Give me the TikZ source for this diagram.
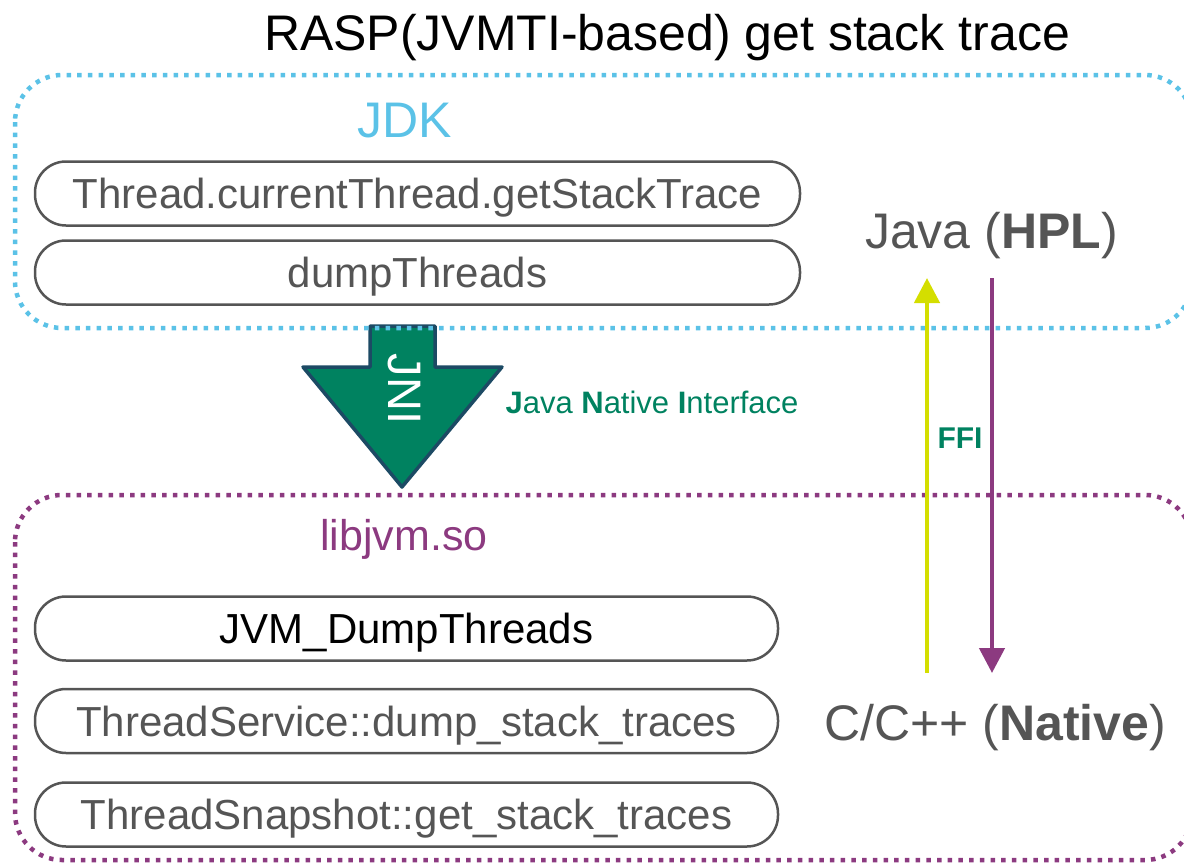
\documentclass[tikz,border=0pt]{standalone}
\usepackage{fontspec}
\setmainfont{Liberation Sans}
\usetikzlibrary{arrows.meta}
\definecolor{jdkblue}{RGB}{91,194,231}
\definecolor{jvmpurple}{RGB}{140,58,128}
\definecolor{jnigreen}{RGB}{0,130,96}
\definecolor{jniedge}{RGB}{28,74,100}
\definecolor{ffiyellow}{RGB}{212,222,0}
\definecolor{textgray}{RGB}{85,85,85}
\tikzset{
  callbox/.style={draw=textgray, line width=2.5pt, rounded corners=31pt, minimum height=64pt,
    inner sep=0pt, text height=30pt, text depth=0pt, font=\fontsize{42}{50}\selectfont, text=textgray},
  layerframe/.style={line width=4.5pt, dash pattern=on 4.5pt off 6.2pt, rounded corners=47pt},
  bigtext/.style={font=\fontsize{50}{60}\selectfont, anchor=base, inner sep=0pt},
  ffiarrow/.style={line width=4.5pt, -{Triangle[width=25pt,length=25pt]}},
}

\begin{document}
\begin{tikzpicture}[x=1pt, y=-1pt]
			%%%%% START %%%%%
			\useasboundingbox (0, 0) rectangle (1184, 865);
			\clip (0, 0) rectangle (1184, 865);
			
			\node[bigtext] (title) at (667, 50) {RASP(JVMTI-based) get stack trace};
			
			% JNI arrow, under the frames
			\draw[line width=3.5pt, line join=round, draw=jniedge, fill=jnigreen]
				(370, 326) -- (435, 326) -- (435, 367) -- (502, 367) -- (402, 487)
				-- (303, 367) -- (370, 367) -- cycle;
			\node[rotate=-90, inner sep=0pt, text=white, font=\fontsize{47}{50}\selectfont] (jni) at (404, 389) {JNI};
			\node[anchor=base, inner sep=0pt, text=jnigreen, font=\fontsize{31}{36}\selectfont] (jnilong) at (652, 413)
				{\textbf{J}ava \textbf{N}ative \textbf{I}nterface};
			
			% JDK layer
			\draw[layerframe, draw=jdkblue] (15, 75) rectangle (1192, 328);
			\node[bigtext, text=jdkblue] (jdk) at (405, 137) {JDK};
			\node[callbox, minimum width=765pt] (getstack) at (417.5, 193.5) {Thread.currentThread.getStackTrace};
			\node[callbox, minimum width=765pt] (dumpthr) at (417.5, 272.5) {dumpThreads};
			
			% libjvm layer
			\draw[layerframe, draw=jvmpurple] (15, 495) rectangle (1192, 860);
			\node[anchor=base, inner sep=0pt, text=jvmpurple, font=\fontsize{43}{50}\selectfont] (libjvm) at (404, 550) {libjvm.so};
			\node[callbox, minimum width=743pt, text=black] (jvmdump) at (406.5, 628.5) {JVM\_DumpThreads};
			\node[callbox, minimum width=743pt] (svcdump) at (406.5, 721) {ThreadService::dump\_stack\_traces};
			\node[callbox, minimum width=743pt] (snapget) at (406.5, 814.5) {ThreadSnapshot::get\_stack\_traces};
			
			% FFI
			\node[bigtext, text=textgray] (javahpl) at (991.5, 248) {Java (\textbf{HPL})};
			\node[bigtext, text=textgray] (cnative) at (995, 740) {C/C++ (\textbf{Native})};
			\coordinate (upfoot) at (927, 673);
			\coordinate (uptip) at (927, 278);
			\coordinate (downtop) at (992, 278);
			\coordinate (downtip) at (992, 673);
			\draw[ffiarrow, draw=ffiyellow, fill=ffiyellow] (upfoot) -- (uptip);
			\draw[ffiarrow, draw=jvmpurple, fill=jvmpurple] (downtop) -- (downtip);
			\node[anchor=base, inner sep=0pt, text=jnigreen, font=\fontsize{30}{36}\selectfont\bfseries] (ffi) at (960, 448) {FFI};
			
			%%%%% END %%%%%
		\end{tikzpicture}
\end{document}
